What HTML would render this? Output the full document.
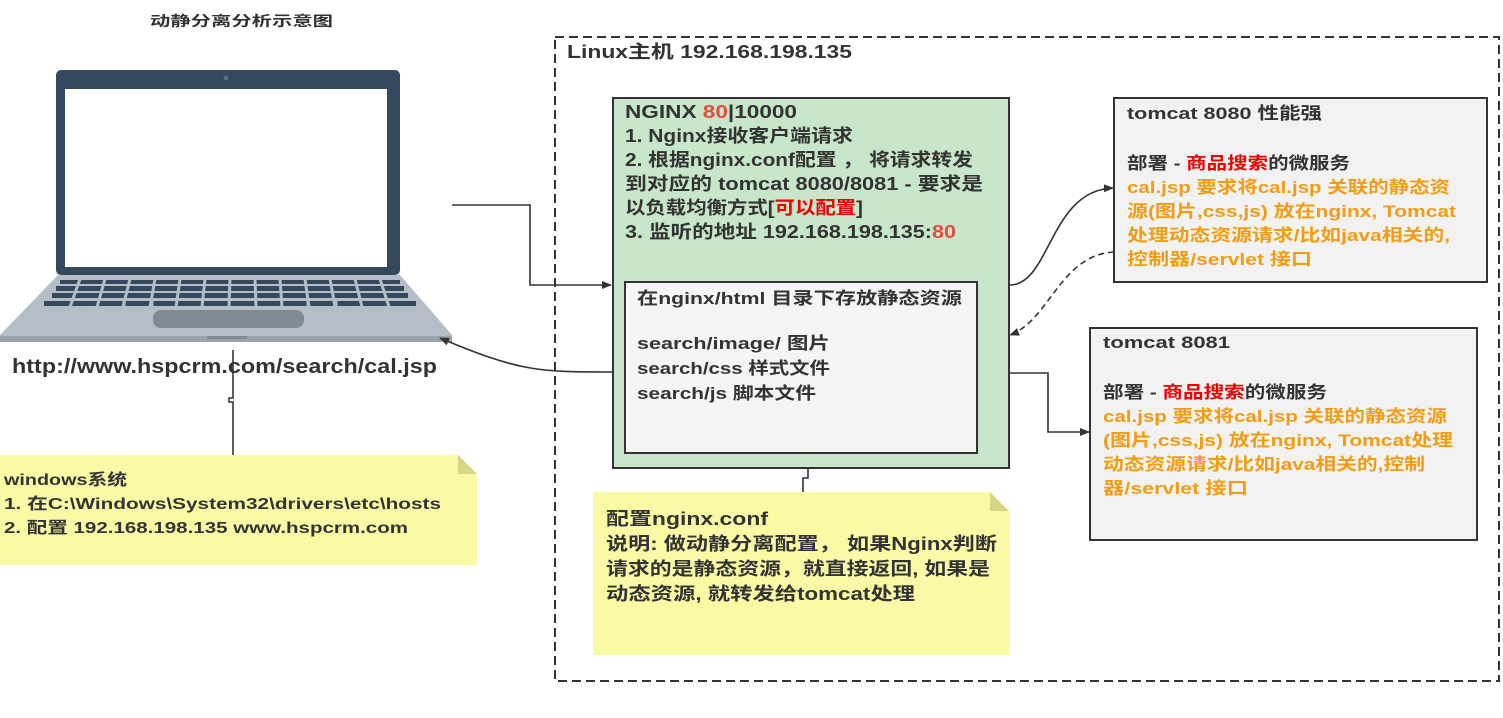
<!DOCTYPE html>
<html><head><meta charset="utf-8"><style>
body{margin:0;background:#fff;}
svg text{font-family:"Liberation Sans","Noto Sans CJK SC",sans-serif;font-weight:bold;}
</style></head><body>
<svg width="1503" height="713" viewBox="0 0 1503 713" xmlns="http://www.w3.org/2000/svg">
<defs>
<marker id="ar" markerWidth="10" markerHeight="8" refX="9" refY="4" orient="auto" markerUnits="userSpaceOnUse"><path d="M0,0 L10,4 L0,8 z" fill="#333"/></marker>
</defs>
<text x="150" y="26" font-size="14" fill="#333" textLength="183" lengthAdjust="spacingAndGlyphs">动静分离分析示意图</text>
<!-- container -->
<rect x="555" y="37" width="944" height="644" fill="none" stroke="#333" stroke-width="2" stroke-dasharray="9,5"/>
<text x="567" y="58" font-size="18" fill="#333" textLength="285" lengthAdjust="spacingAndGlyphs">Linux主机 192.168.198.135</text>
<!-- laptop -->
<rect x="56" y="70" width="344" height="205" rx="5" fill="#34495e"/>
<rect x="65" y="89" width="322" height="178" fill="#fff"/>
<circle cx="226" cy="78" r="2.5" fill="#5d6d7e"/>
<path d="M58,275 L400,275 L452,335 L452,342 L0,342 L0,335 Z" fill="#b5bec6"/>
<rect x="0" y="336" width="452" height="6" fill="#9aa4ad"/>
<g fill="#34495e">
<rect x="60" y="280" width="340" height="4"/>
<rect x="56" y="286" width="348" height="5"/>
<rect x="52" y="293" width="356" height="5"/>
<rect x="44" y="301" width="372" height="5"/>
</g>
<g stroke="#b5bec6" stroke-width="3">
<path d="M80,279 L70,307 M105,279 L97,307 M130,279 L123,307 M155,279 L150,307 M180,279 L176,307 M205,279 L202,307 M230,279 L229,307 M255,279 L256,307 M280,279 L282,307 M305,279 L309,307 M330,279 L335,307 M355,279 L362,307 M380,279 L389,307 M124,300 L124,307 M152,300 L152,307 M308,300 L308,307 M336,300 L336,307"/>
</g>
<rect x="153" y="310" width="151" height="18" rx="8" fill="#7f8a93"/>
<rect x="207" y="336" width="40" height="3" fill="#7f8a93"/>
<text x="12" y="373" font-size="20" fill="#333" textLength="425" lengthAdjust="spacingAndGlyphs">http://www.hspcrm.com/search/cal.jsp</text>
<!-- windows note -->
<path d="M0,455 L458,455 L477,474 L477,565 L0,565 Z" fill="#fafaa6"/>
<path d="M458,455 L477,474 L458,474 Z" fill="#d6d685"/>
<g font-size="16" fill="#333" lengthAdjust="spacingAndGlyphs">
<text x="4" y="485" textLength="123" lengthAdjust="spacingAndGlyphs">windows系统</text>
<text x="4" y="509" textLength="437" lengthAdjust="spacingAndGlyphs">1. 在C:\Windows\System32\drivers\etc\hosts</text>
<text x="4" y="533" textLength="404" lengthAdjust="spacingAndGlyphs">2. 配置 192.168.198.135 www.hspcrm.com</text>
</g>
<!-- nginx -->
<rect x="613" y="98" width="396" height="370" fill="#c8e6c9" stroke="#333" stroke-width="2"/>
<g font-size="18" fill="#333">
<text x="625" y="118" textLength="172" lengthAdjust="spacingAndGlyphs">NGINX <tspan fill="#e74c3c">80</tspan>|10000</text>
<text x="625" y="142" textLength="228" lengthAdjust="spacingAndGlyphs">1. Nginx接收客户端请求</text>
<text x="625" y="166" textLength="348" lengthAdjust="spacingAndGlyphs">2. 根据nginx.conf配置 ， 将请求转发</text>
<text x="625" y="190" textLength="358" lengthAdjust="spacingAndGlyphs">到对应的 tomcat 8080/8081 - 要求是</text>
<text x="625" y="214" textLength="238" lengthAdjust="spacingAndGlyphs">以负载均衡方式[<tspan fill="#e00">可以配置</tspan>]</text>
<text x="625" y="238" textLength="331" lengthAdjust="spacingAndGlyphs">3. 监听的地址 192.168.198.135:<tspan fill="#e74c3c">80</tspan></text>
</g>
<rect x="625" y="282" width="352" height="171" fill="#f5f5f5" stroke="#333" stroke-width="2"/>
<g font-size="17" fill="#333">
<text x="637" y="304" textLength="325" lengthAdjust="spacingAndGlyphs">在nginx/html 目录下存放静态资源</text>
<text x="637" y="349" textLength="193" lengthAdjust="spacingAndGlyphs">search/image/ 图片</text>
<text x="637" y="374" textLength="193" lengthAdjust="spacingAndGlyphs">search/css 样式文件</text>
<text x="637" y="399" textLength="179" lengthAdjust="spacingAndGlyphs">search/js 脚本文件</text>
</g>
<!-- nginx.conf note -->
<path d="M593,492 L990,492 L1009,511 L1009,655 L593,655 Z" fill="#fafaa6"/>
<path d="M990,492 L1009,511 L990,511 Z" fill="#d6d685"/>
<g font-size="18" fill="#333">
<text x="606" y="525" textLength="162" lengthAdjust="spacingAndGlyphs">配置nginx.conf</text>
<text x="606" y="550" textLength="391" lengthAdjust="spacingAndGlyphs">说明: 做动静分离配置， 如果Nginx判断</text>
<text x="606" y="575" textLength="384" lengthAdjust="spacingAndGlyphs">请求的是静态资源，就直接返回, 如果是</text>
<text x="606" y="600" textLength="309" lengthAdjust="spacingAndGlyphs">动态资源, 就转发给tomcat处理</text>
</g>
<!-- tomcat 8080 -->
<rect x="1114" y="98" width="373" height="184" fill="#f2f2f2" stroke="#333" stroke-width="2"/>
<g font-size="17">
<text x="1127" y="119" fill="#333" textLength="195" lengthAdjust="spacingAndGlyphs">tomcat 8080 性能强</text>
<text x="1127" y="169" fill="#333" textLength="223" lengthAdjust="spacingAndGlyphs">部署 - <tspan fill="#e00">商品搜索</tspan>的微服务</text>
<text x="1127" y="193" fill="#f39c12" textLength="323" lengthAdjust="spacingAndGlyphs">cal.jsp 要求将cal.jsp 关联的静态资</text>
<text x="1127" y="217" fill="#f39c12" textLength="329" lengthAdjust="spacingAndGlyphs">源(图片,css,js) 放在nginx, Tomcat</text>
<text x="1127" y="241" fill="#f39c12" textLength="323" lengthAdjust="spacingAndGlyphs">处理动态资源请求/比如java相关的,</text>
<text x="1127" y="265" fill="#f39c12" textLength="185" lengthAdjust="spacingAndGlyphs">控制器/servlet 接口</text>
</g>
<!-- tomcat 8081 -->
<rect x="1090" y="328" width="387" height="212" fill="#f2f2f2" stroke="#333" stroke-width="2"/>
<g font-size="17">
<text x="1103" y="348" fill="#333" textLength="127" lengthAdjust="spacingAndGlyphs">tomcat 8081</text>
<text x="1103" y="398" fill="#333" textLength="224" lengthAdjust="spacingAndGlyphs">部署 - <tspan fill="#e00">商品搜索</tspan>的微服务</text>
<text x="1103" y="422" fill="#f39c12" textLength="344" lengthAdjust="spacingAndGlyphs">cal.jsp 要求将cal.jsp 关联的静态资源</text>
<text x="1103" y="446" fill="#f39c12" textLength="350" lengthAdjust="spacingAndGlyphs">(图片,css,js) 放在nginx, Tomcat处理</text>
<text x="1103" y="470" fill="#f39c12" textLength="322" lengthAdjust="spacingAndGlyphs">动态资源请求/比如java相关的,控制</text>
<text x="1103" y="494" fill="#f39c12" textLength="145" lengthAdjust="spacingAndGlyphs">器/servlet 接口</text>
</g>
<!-- connectors -->
<g fill="none" stroke="#333" stroke-width="1.6">
<path d="M452,205 L530,205 L530,285 L611,285" marker-end="url(#ar)"/>
<path d="M612,372 C540,372 520,372 440,338" marker-end="url(#ar)"/>
<path d="M233,350 L233,398 L229,398 L229,402 L233,402 L233,455"/>
<path d="M808,468 L808,478 L803,478 L803,492"/>
<path d="M1010,285 C1050,285 1050,190 1113,188" marker-end="url(#ar)"/>
<path d="M1114,252 C1060,255 1050,320 1010,335" stroke-dasharray="6,4" marker-end="url(#ar)"/>
<path d="M1010,373 L1048,373 L1048,432 L1089,432" marker-end="url(#ar)"/>
</g>
</svg>
</body></html>
